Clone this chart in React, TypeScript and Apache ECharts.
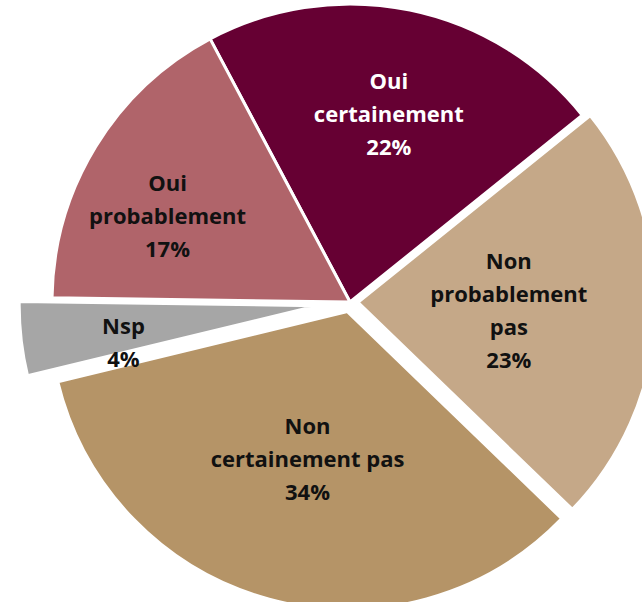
import React, { useEffect, useRef } from "react";
import * as echarts from "echarts";

const categories = ["Oui certainement", "Non probablement pas", "Non certainement pas", "Nsp", "Oui probablement"];
const values = [22, 23, 34, 4, 17];
const labelTexts = ["Oui\ncertainement", "Non\nprobablement\npas", "Non\ncertainement pas", "Nsp", "Oui\nprobablement"];
const colors = ["#660033", "#C5A888", "#B59467", "#A6A6A6", "#B0646A"];
const labelColors = ["#FFFFFF", "#111111", "#111111", "#111111", "#111111"];
const explode = [0, 8, 10, 33, 0];
const labelRadius = [190, 148, 149, 194, 199];
const labelAngleShift = [0, 0, 0, 4, 6];

const CX = 350;
const CY = 302;
const R = 298;
const START = 118;

export default function App() {
  const ref = useRef<HTMLDivElement>(null);
  useEffect(() => {
    if (!ref.current) return;
    const chart = echarts.init(ref.current, null, { renderer: "svg" });
    const total = values.reduce((a, b) => a + b, 0);
    let cum = 0;
    const midRads: number[] = values.map((v) => {
      const mid = START - ((cum + v / 2) / total) * 360;
      cum += v;
      return (mid * Math.PI) / 180;
    });
    const series: any[] = [];
    values.forEach((_, i) => {
      const rad = midRads[i];
      const c = [CX + explode[i] * Math.cos(rad), CY - explode[i] * Math.sin(rad)];
      series.push({
        type: "pie",
        center: c,
        radius: [0, R],
        startAngle: START,
        clockwise: true,
        silent: true,
        avoidLabelOverlap: false,
        label: { show: false },
        labelLine: { show: false },
        emphasis: { disabled: true },
        data: values.map((v, j) => ({
          name: categories[j],
          value: v,
          itemStyle:
            j === i
              ? { color: colors[j], borderColor: "#FFFFFF", borderWidth: 3 }
              : { color: "rgba(0,0,0,0)", opacity: 0 },
        })),
      });
      series.push({
        type: "pie",
        center: c,
        radius: [labelRadius[i] - 0.5, labelRadius[i] + 0.5],
        startAngle: START + labelAngleShift[i],
        clockwise: true,
        silent: true,
        avoidLabelOverlap: false,
        labelLine: { show: false },
        emphasis: { disabled: true },
        itemStyle: { color: "rgba(0,0,0,0)", opacity: 0 },
        data: values.map((v, j) => ({
          name: categories[j],
          value: v,
          label:
            j === i
              ? {
                  show: true,
                  position: "inside",
                  formatter: () => labelTexts[j] + "\n" + values[j] + "%",
                  color: labelColors[j],
                  fontFamily: "Open Sans",
                  fontWeight: "bold",
                  fontSize: 22,
                  lineHeight: 33,
                  align: "center",
                  opacity: 1,
                }
              : { show: false },
        })),
      });
    });
    chart.setOption({
      animation: false,
      backgroundColor: "#FFFFFF",
      series,
    });
    return () => chart.dispose();
  }, []);
  return <div ref={ref} style={{ position: "absolute", left: 0, top: 0, width: 642, height: 602 }} />;
}
